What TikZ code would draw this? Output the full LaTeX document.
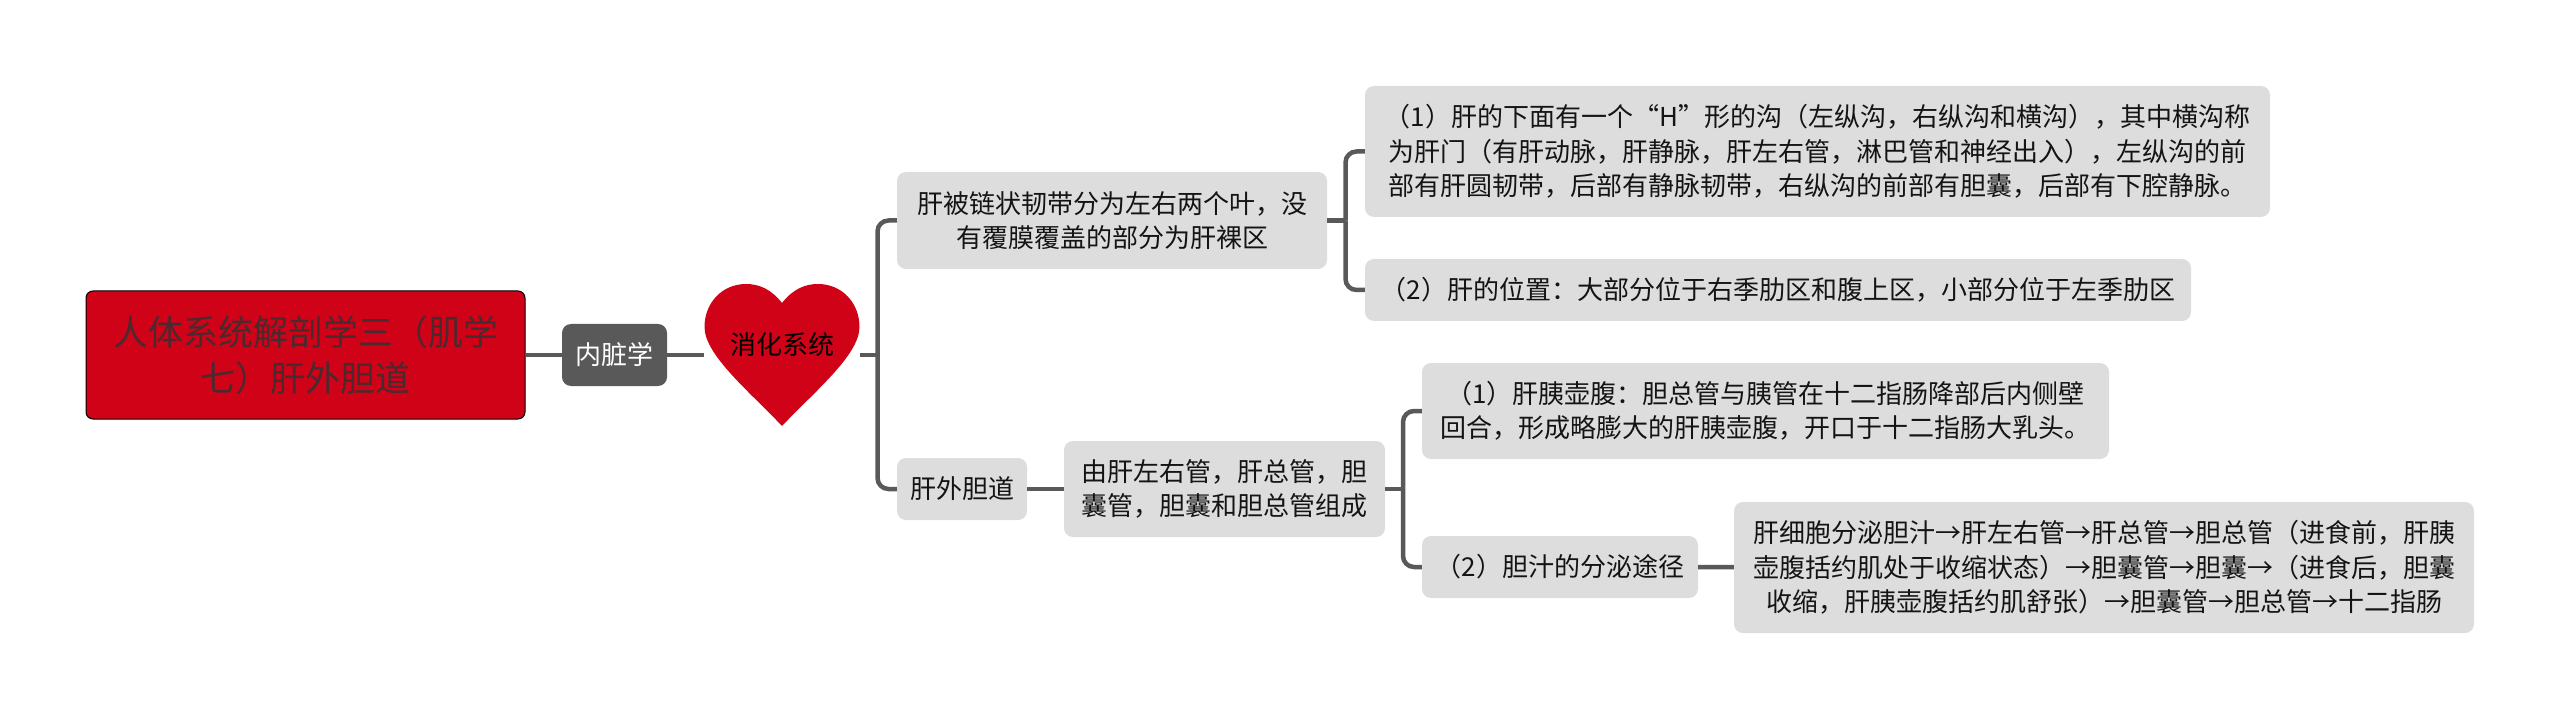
\documentclass[tikz,border=0pt]{standalone}
\usepackage{fontspec}
\setmainfont{Noto Sans CJK SC}
\usepackage{xcolor}

\definecolor{rootred}{RGB}{207,2,24}
\definecolor{roottext}{RGB}{74,42,46}
\definecolor{linkgray}{RGB}{89,89,89}
\definecolor{boxgray}{RGB}{221,221,221}
\definecolor{texgray}{RGB}{20,20,20}

\begin{document}
\begin{tikzpicture}[
    x=1pt, y=-1pt,
    link/.style={draw=linkgray, line width=4.5pt},
    bentlink/.style={link, rounded corners=11pt},
    leaf/.style={fill=boxgray, rounded corners=9pt, inner sep=0pt, align=center, text=texgray,
        font=\fontsize{26}{34.5}\selectfont},
    rootbox/.style={fill=rootred, draw=black, line width=1pt, rounded corners=7pt, inner sep=0pt, align=center,
        text=roottext, font=\fontsize{35}{46}\selectfont, minimum width=439pt, minimum height=128pt},
    darkbox/.style={leaf, fill=linkgray, text=white}
]
    \useasboundingbox (0,0) rectangle (2560,719);

    % Define the heart position
    \def\heartx{782};
    \def\hearty{355};

    % Draw the branch points
    \coordinate (hubmain) at (877.5,355);
    \coordinate (hubliver) at (1345.5,220.5);
    \coordinate (hubduct) at (1403,489);

    % Draw the nodes
    \node[rootbox] (root) at (305.5,355) {人体系统解剖学三（肌学\\七）肝外胆道};
    \node[darkbox, minimum width=105pt, minimum height=62pt] (viscera) at (614.5,355) {内脏学};
    \node[minimum width=155pt, minimum height=142pt, inner sep=0pt] (heart) at (\heartx,\hearty) {};

    \node[leaf, minimum width=430pt, minimum height=97pt] (liver) at (1112,220.5) {肝被链状韧带分为左右两个叶，没\\有覆膜覆盖的部分为肝裸区};
    \node[leaf, minimum width=905pt, minimum height=131pt] (groove) at (1817.5,151.5) {（1）肝的下面有一个“H”形的沟（左纵沟，右纵沟和横沟），其中横沟称\\为肝门（有肝动脉，肝静脉，肝左右管，淋巴管和神经出入），左纵沟的前\\部有肝圆韧带，后部有静脉韧带，右纵沟的前部有胆囊，后部有下腔静脉。};
    \node[leaf, minimum width=826pt, minimum height=62pt] (place) at (1778,290) {（2）肝的位置：大部分位于右季肋区和腹上区，小部分位于左季肋区};

    \node[leaf, minimum width=130pt, minimum height=62pt] (duct) at (962,489) {肝外胆道};
    \node[leaf, minimum width=321pt, minimum height=96pt] (parts) at (1224.5,489) {由肝左右管，肝总管，胆\\囊管，胆囊和胆总管组成};
    \node[leaf, minimum width=687pt, minimum height=96pt] (ampulla) at (1765.5,411) {（1）肝胰壶腹：胆总管与胰管在十二指肠降部后内侧壁\\回合，形成略膨大的肝胰壶腹，开口于十二指肠大乳头。};
    \node[leaf, minimum width=276pt, minimum height=62pt] (route) at (1560,567) {（2）胆汁的分泌途径};
    \node[leaf, minimum width=740pt, minimum height=131pt] (bile) at (2104,567.5) {肝细胞分泌胆汁→肝左右管→肝总管→胆总管（进食前，肝胰\\壶腹括约肌处于收缩状态）→胆囊管→胆囊→（进食后，胆囊\\收缩，肝胰壶腹括约肌舒张）→胆囊管→胆总管→十二指肠};

    % Draw the straight links
    \foreach \from/\to in {root/viscera, viscera/heart, heart/hubmain, liver/hubliver, duct/parts, parts/hubduct, route/bile} {
        \draw[link] (\from) -- (\to);
    }

    % Draw the bent links
    \foreach \from/\to in {hubmain/liver, hubmain/duct, hubliver/groove, hubliver/place, hubduct/ampulla, hubduct/route} {
        \draw[bentlink] (\from) |- (\to);
    }

    % Draw the heart on top of the links
    \fill[rootred] (\heartx,303) .. controls (771,289) and (759,284) .. (746,284)
        .. controls (722,284) and (704.5,303) .. (704.5,327)
        .. controls (704.5,355) and (750,392) .. (\heartx,426)
        .. controls (814,392) and (859.5,355) .. (859.5,327)
        .. controls (859.5,303) and (842,284) .. (818,284)
        .. controls (805,284) and (793,289) .. (\heartx,303) -- cycle;
    \node[font=\fontsize{26}{30}\selectfont, text=black, inner sep=0pt] (heartlabel) at (\heartx,345) {消化系统};
\end{tikzpicture}
\end{document}
